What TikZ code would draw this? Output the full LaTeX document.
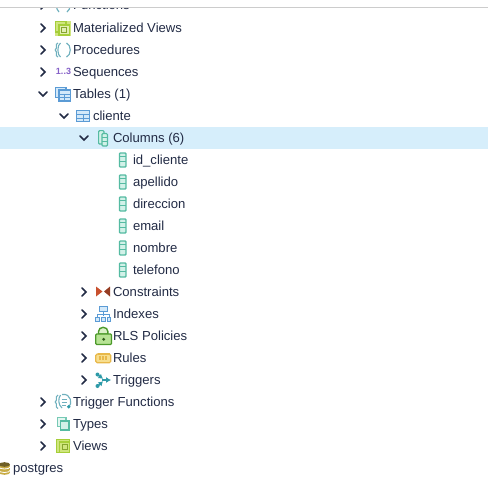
\documentclass[tikz,border=0pt]{standalone}
\usepackage{fontspec}
\usetikzlibrary{arrows.meta}
\setmainfont{Liberation Sans}
\definecolor{ink}{HTML}{222B45}
\definecolor{sel}{HTML}{D6EEFB}
\definecolor{teal}{HTML}{55BBA2}
\definecolor{tealf}{HTML}{D2F1E8}
\definecolor{lime}{HTML}{A6CE39}
\definecolor{limef}{HTML}{CFE57E}
\definecolor{blu}{HTML}{5B9BD5}
\definecolor{bluf}{HTML}{D3E9FA}
\definecolor{cyanic}{HTML}{6FB0BE}
\definecolor{purp}{HTML}{8560C8}
\definecolor{redb}{HTML}{C8502E}
\definecolor{gold}{HTML}{E8B84A}
\definecolor{goldf}{HTML}{F7DE8E}
\definecolor{grn}{HTML}{4C9A2A}
\definecolor{grnf}{HTML}{B7E394}
\definecolor{dbgold}{HTML}{C9AC45}
\definecolor{trg}{HTML}{2E9AA8}
\tikzset{x=1pt,y=-1pt,
  lbl/.style={anchor=base west,inner sep=0pt,outer sep=0pt,text=ink,font=\fontsize{13.1}{15}\selectfont},
  chev/.style={draw=ink,line width=1.5pt,line cap=round,line join=miter},
  ic/.style={line width=1.2pt}}
\newcommand{\chevR}[2]{\draw[chev] (#1-2,#2-4) -- (#1+2,#2) -- (#1-2,#2+4);}
\newcommand{\chevD}[2]{\draw[chev] (#1-4,#2-2) -- (#1,#2+2) -- (#1+4,#2-2);}
\newcommand{\colicon}[2]{%
  \draw[line width=1.3pt,draw=teal,fill=tealf,rounded corners=.8pt] (#1-3.2,#2-7) rectangle (#1+3.2,#2+7);
  \draw[draw=teal,line width=1pt] (#1-3.2,#2-3.5) -- (#1+3.2,#2-3.5) (#1-3.2,#2+1) -- (#1+3.2,#2+1);}
\newcommand{\tblicon}[3]{%
  \draw[ic,draw=blu,fill=bluf] (#1-#3,#2-5.5) rectangle (#1+#3,#2+5.5);
  \draw[draw=blu,line width=.9pt] (#1-#3,#2-1.5) -- (#1+#3,#2-1.5) (#1-#3,#2+2) -- (#1+#3,#2+2) (#1,#2-1.5) -- (#1,#2+5.5);}
\begin{document}
\begin{tikzpicture}
\useasboundingbox (0,0) rectangle (488,477);
\fill[white] (0,0) rectangle (488,477);
\fill[sel] (0,126.5) rectangle (488,148.5);
% clipped first row
\node[lbl] (functions) at (73,9.5) {Functions};
\draw[cyanic,line width=1.2pt] (59,0) .. controls (55,3) and (56,9) .. (59,12) (67,0) .. controls (71,3) and (71,9) .. (67,12);
\chevR{43}{5}
\fill[white] (0,0) rectangle (488,7);
\draw[black!20,line width=.8pt] (0,7.3) -- (488,7.3);
% labels
\node[lbl] (mv) at (73,32) {Materialized Views};
\node[lbl] (proc) at (73,54) {Procedures};
\node[lbl] (seq) at (73,76) {Sequences};
\node[lbl] (tables) at (73,98) {Tables (1)};
\node[lbl] (cliente) at (93,120) {cliente};
\node[lbl] (columns) at (113,142) {Columns (6)};
\node[lbl] (c1) at (133,164) {id\_cliente};
\node[lbl] (c2) at (133,186) {apellido};
\node[lbl] (c3) at (133,208) {direccion};
\node[lbl] (c4) at (133,230) {email};
\node[lbl] (c5) at (133,252) {nombre};
\node[lbl] (c6) at (133,274) {telefono};
\node[lbl] (cons) at (113,296) {Constraints};
\node[lbl] (idx) at (113,318) {Indexes};
\node[lbl] (rls) at (113,340) {RLS Policies};
\node[lbl] (rules) at (113,362) {Rules};
\node[lbl] (trig) at (113,384) {Triggers};
\node[lbl] (tf) at (73,406) {Trigger Functions};
\node[lbl] (types) at (73,428) {Types};
\node[lbl] (views) at (73,450) {Views};
\node[lbl] (pg) at (13,472) {postgres};
% chevrons
\chevR{43}{28}\chevR{43}{50}\chevR{43}{72}
\chevD{43}{94}\chevD{64}{116}\chevD{84}{138}
\chevR{84}{292}\chevR{84}{314}\chevR{84}{336}\chevR{84}{358}\chevR{84}{380}
\chevR{43}{402}\chevR{43}{424}\chevR{43}{446}
% materialized views
\fill[limef] (55,21) rectangle (71,36);
\draw[ic,draw=lime,fill=limef] (55.6,21.6) rectangle (66,32);
\draw[ic,draw=lime,fill=limef!60] (59,25) rectangle (69.5,35);
\draw[draw=lime!80!black,line width=1pt] (61.5,27.5) rectangle (66.5,32.5);
% procedures
\draw[cyanic,line width=1.1pt] (58,43) .. controls (54.5,44) and (58,48) .. (55.2,50) .. controls (58,52) and (54.5,56) .. (58,57);
\draw[cyanic,line width=1.1pt] (60.5,43) .. controls (57,45) and (57,55) .. (60.5,57);
\draw[cyanic,line width=1.1pt] (66.5,43) .. controls (71.5,45) and (71.5,55) .. (66.5,57);
% sequences
\node[inner sep=0pt,text=purp,font=\bfseries\fontsize{9}{9}\selectfont] (seqic) at (63.5,71.5) {1..3};
% tables
\draw[ic,draw=blu,fill=bluf] (55.6,87.6) rectangle (66,97.5);
\tblicon{64.7}{95.5}{5.8}
% cliente
\tblicon{83}{116}{6.5}
% columns
\draw[ic,draw=teal,fill=tealf,rounded corners=1pt] (98.6,130.6) rectangle (104,144);
\draw[ic,draw=teal,fill=tealf,rounded corners=1pt] (102,133.5) rectangle (107.4,146);
\draw[draw=teal,line width=1pt] (102,137.5) -- (107.4,137.5) (102,141.5) -- (107.4,141.5);
% column icons
\colicon{122.7}{160}\colicon{122.7}{182}\colicon{122.7}{204}\colicon{122.7}{226}\colicon{122.7}{248}\colicon{122.7}{270}
% constraints
\fill[redb] (96,286.5) -- (102.5,291.5) -- (96,296.5) -- cycle;
\fill[redb!75!black] (110,286.5) -- (104,291.5) -- (110,296.5) -- cycle;
% indexes
\draw[blu,line width=1pt,fill=bluf] (99,306.5) rectangle (107.5,311.5);
\draw[blu,line width=1pt] (103.3,311.5) -- (103.3,316) (97.5,318.5) -- (97.5,314.5) -- (109,314.5) -- (109,318.5);
\draw[blu,line width=1pt,fill=bluf] (95.8,317.5) rectangle (99.5,321) (101.5,317.5) rectangle (105.2,321) (107.2,317.5) rectangle (110.8,321);
% RLS
\draw[grn,line width=1.4pt,fill=grnf!50] (98.5,334) -- (98.5,331.5) arc[start angle=180,end angle=360,x radius=4.7,y radius=4.2] -- (107.9,334) -- cycle;
\draw[grn,line width=1.2pt,fill=grnf,rounded corners=1pt] (95.8,334) rectangle (111.5,344.5);
\fill[grn!60!black] (103.7,339.3) circle (1.6);
% rules
\draw[gold,line width=1.2pt,fill=goldf,rounded corners=1.5pt] (95.8,354) rectangle (110.8,362.8);
\draw[gold,line width=1.2pt] (98,354) -- (110,354) (100,356) -- (100,360) (103,356) -- (103,360) (106,356) -- (106,360);
% triggers
\draw[trg,line width=1.5pt,-{Latex[length=5pt,width=6pt]}] (102,380) -- (111,380);
\draw[trg,line width=1.5pt,-{Latex[length=4.5pt,width=5.5pt]}] (98,375) -- (103,378.8);
\draw[trg,line width=1.5pt,-{Latex[length=4.5pt,width=5.5pt]}] (98,386) -- (103,381.2);
\fill[trg] (97.5,374.5) circle (2) (97.5,386) circle (2);
% trigger functions
\draw[cyanic,line width=1.1pt] (58,395) .. controls (54.5,397) and (58,400) .. (55.2,402) .. controls (58,404) and (54.5,407) .. (58,408.5);
\draw[cyanic,line width=1.1pt] (62,394.5) .. controls (72,393) and (72,405) .. (69,406.5);
\draw[cyanic,line width=1.1pt] (60.5,395) .. controls (58,398) and (58,405) .. (62,408);
\draw[cyanic,line width=.9pt] (61.5,399) -- (66.5,399) (61.5,402) -- (66.5,402) (61.5,405) -- (65.5,405);
\fill[trg] (68.7,406.7) circle (1.9);
% types
\draw[ic,draw=teal!80,fill=tealf!60] (57.6,417.6) rectangle (66,426.5);
\draw[ic,draw=teal,fill=tealf] (60.5,421) rectangle (69,430);
% views
\fill[limef] (56,438.5) rectangle (70,453);
\draw[ic,draw=lime] (56.6,439.1) rectangle (69.4,452.4) (59.3,442) rectangle (69.4,452.4);
\draw[draw=lime!80!black,line width=1pt] (62,444.7) rectangle (67,449.8);
% postgres
\fill[dbgold] (-1,464.5) rectangle (10,472.5);
\fill[dbgold] (4.5,472.5) ellipse[x radius=5.5,y radius=2.3];
\fill[dbgold!55!black] (4.5,464.5) ellipse[x radius=5.5,y radius=2.3];
\draw[white,line width=.8pt] (-1,467) arc[start angle=180,end angle=0,x radius=5.5,y radius=2] (-1,470.5) arc[start angle=180,end angle=0,x radius=5.5,y radius=2];
\end{tikzpicture}
\end{document}
